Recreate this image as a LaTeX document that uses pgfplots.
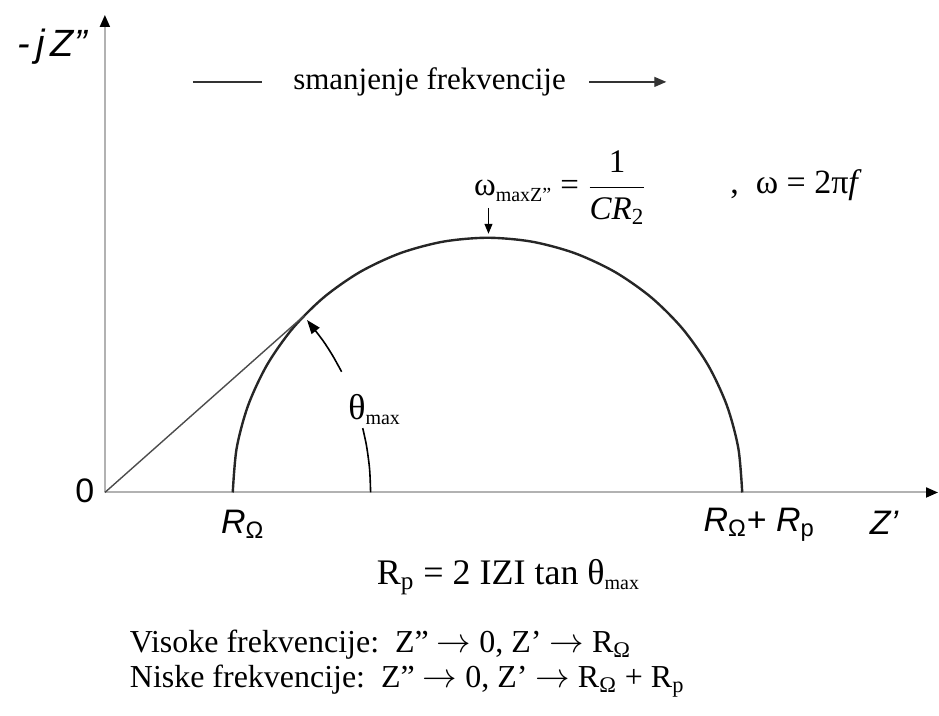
\documentclass[border=0pt]{standalone}
\usepackage{pgfplots}
\pgfplotsset{compat=1.18}
\usetikzlibrary{arrows.meta}
\usepackage{fontspec}
\setmainfont{Liberation Serif}
\setsansfont{Liberation Sans}

\begin{document}
\begin{tikzpicture}
\begin{axis}[
  x=0.5pt, y=0.5pt,
  xmin=0, xmax=834, ymin=0, ymax=478,
  axis lines=left,
  axis line style={draw=black!30, line width=1pt, -{Triangle[length=6pt,width=5pt,color=black]}},
  ticks=none,
  clip=false,
]
% page extent
\path (axis cs:-105,-223) rectangle (axis cs:834,493);

% semicircle (R_Omega = 128, R_Omega + R_p = 638)
\addplot[black!85, line width=1.2pt, smooth] coordinates {
  (638,0) (634.1,44.3) (622.6,87.2) (603.8,127.5) (578.3,163.9)
  (546.9,195.3) (510.5,220.8) (470.2,239.6) (427.3,251.1) (383,255)
  (338.7,251.1) (295.8,239.6) (255.5,220.8) (219.1,195.3) (187.7,163.9)
  (162.2,127.5) (143.4,87.2) (131.9,44.3) (128,0)
};

% line from origin to the circle
\addplot[black!70, line width=0.7pt] coordinates {(0,0) (199.6,177.1)};

% theta_max arc
\addplot[black, line width=0.8pt, smooth] coordinates {
  (266,0) (265.0,23.2) (262.0,46.2) (258.1,64.4)
};
\addplot[black, line width=0.8pt, smooth, -{Triangle[length=7pt,width=5pt]}] coordinates {
  (237.0,120.8) (228.0,137.0) (217.9,152.6) (202.3,172.7)
};

% arrow to the top of the semicircle
\addplot[black, line width=0.6pt, -{Triangle[length=5pt,width=4pt]}] coordinates {(384,285) (384,259)};

% "smanjenje frekvencije" lines
\addplot[black!80, line width=0.6pt] coordinates {(88,411) (157,411)};
\addplot[black!80, line width=0.6pt, -{Triangle[length=6pt,width=5pt]}] coordinates {(485,411) (562,411)};

% text
\node[font=\sffamily\itshape\fontsize{19}{22}\selectfont] at (axis cs:-53,446) {-\,j\,Z"};
\node[font=\fontsize{15.5}{18}\selectfont] at (axis cs:325,411) {smanjenje frekvencije};
\node[font=\fontsize{16.5}{20}\selectfont] at (axis cs:456,305)
  {ω\textsubscript{\fontsize{10}{10}\selectfont maxZ"} = $\displaystyle\frac{\mbox{1}}{\mbox{\itshape CR\textsubscript{\upshape 2}}}$};
\node[font=\fontsize{17}{20}\selectfont] at (axis cs:690,308) {,\ \ ω = 2π{\itshape f}};
\node[font=\fontsize{18}{20}\selectfont] at (axis cs:270,83) {θ\textsubscript{\fontsize{10}{10}\selectfont max}};
\node[font=\sffamily\fontsize{17}{20}\selectfont] at (axis cs:-20,2) {0};
\node[font=\sffamily\fontsize{17}{20}\selectfont] at (axis cs:138,-32) {\textit{R}\textsubscript{Ω}};
\node[font=\sffamily\fontsize{17}{20}\selectfont] at (axis cs:655,-32) {\textit{R}\textsubscript{Ω}+ \textit{R}\textsubscript{p}};
\node[font=\sffamily\itshape\fontsize{17}{20}\selectfont] at (axis cs:780,-30) {Z'};
\node[font=\fontsize{18}{20}\selectfont] at (axis cs:404,-85)
  {R\textsubscript{p} = 2 IZI tan θ\textsubscript{\fontsize{10}{10}\selectfont max}};
\node[font=\fontsize{16}{19}\selectfont, anchor=west] at (axis cs:18,-152)
  {Visoke frekvencije:\ \ Z" $\rightarrow$ 0, Z' $\rightarrow$ R\textsubscript{Ω}};
\node[font=\fontsize{16}{19}\selectfont, anchor=west] at (axis cs:18,-189)
  {Niske frekvencije:\ \ Z" $\rightarrow$ 0, Z' $\rightarrow$ R\textsubscript{Ω} + R\textsubscript{p}};
\end{axis}
\end{tikzpicture}
\end{document}
